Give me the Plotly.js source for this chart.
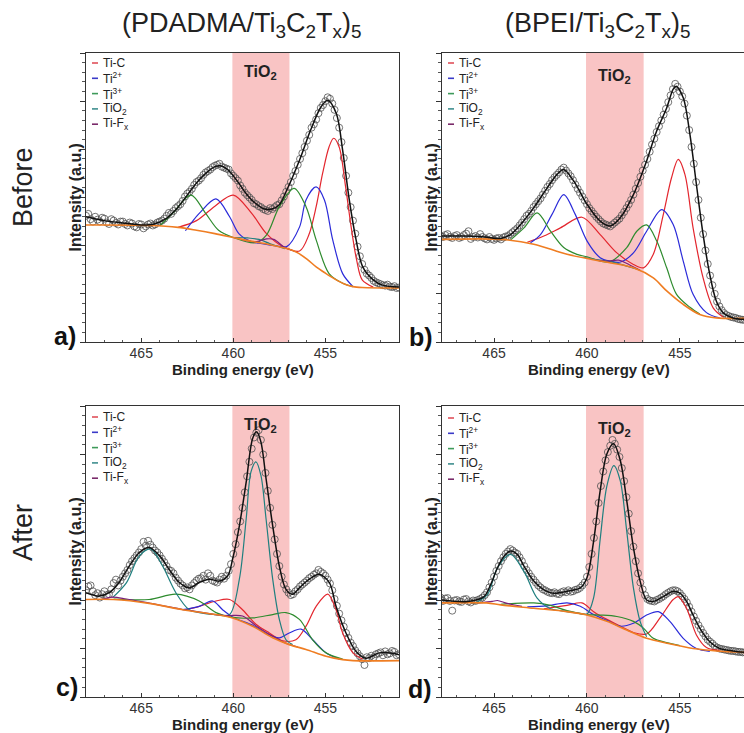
<!DOCTYPE html>
<html>
<head>
<meta charset="utf-8">
<script src="https://cdn.plot.ly/plotly-3.0.1.min.js"></script>
<style>html,body{margin:0;padding:0;background:#fff}#chart{width:744px;height:733px}</style>
</head>
<body>
<div id="chart"></div>
<script>
// ---------- tick labels / categories ----------
const xTickVals = [465, 460, 455];
const xTickText = ['465', '460', '455'];
const xTitle = '<b>Binding energy (eV)</b>';
const yTitle = '<b>Intensity (a.u.)</b>';
const columnTitles = ['(PDADMA/Ti<sub>3</sub>C<sub>2</sub>T<sub>x</sub>)<sub>5</sub>', '(BPEI/Ti<sub>3</sub>C<sub>2</sub>T<sub>x</sub>)<sub>5</sub>'];
const rowTitles = ['Before', 'After'];
const panelLetters = ['a)', 'b)', 'c)', 'd)'];
const componentNames = ['Ti-C', 'Ti<sup>2+</sup>', 'Ti<sup>3+</sup>', 'TiO<sub>2</sub>', 'Ti-F<sub>x</sub>'];
const tio2Band = [460.05, 456.95];

// ---------- measured data (open circles), binding energy in eV ----------
const dataE = [468,467.875,467.75,467.625,467.5,467.375,467.25,467.125,467,466.875,466.75,466.625,466.5,466.375,466.25,466.125,466,465.875,465.75,465.625,465.5,465.375,465.25,465.125,465,464.875,464.75,464.625,464.5,464.375,464.25,464.125,464,463.875,463.75,463.625,463.5,463.375,463.25,463.125,463,462.875,462.75,462.625,462.5,462.375,462.25,462.125,462,461.875,461.75,461.625,461.5,461.375,461.25,461.125,461,460.875,460.75,460.625,460.5,460.375,460.25,460.125,460,459.875,459.75,459.625,459.5,459.375,459.25,459.125,459,458.875,458.75,458.625,458.5,458.375,458.25,458.125,458,457.875,457.75,457.625,457.5,457.375,457.25,457.125,457,456.875,456.75,456.625,456.5,456.375,456.25,456.125,456,455.875,455.75,455.625,455.5,455.375,455.25,455.125,455,454.875,454.75,454.625,454.5,454.375,454.25,454.125,454,453.875,453.75,453.625,453.5,453.375,453.25,453.125,453,452.875,452.75,452.625,452.5,452.375,452.25,452.125,452,451.875,451.75,451.625,451.5,451.375,451.25,451.125,451];
const dataA = [2.62,2.66,2.55,2.50,2.60,2.54,2.50,2.58,2.56,2.48,2.45,2.55,2.52,2.47,2.44,2.50,2.50,2.45,2.42,2.48,2.46,2.40,2.38,2.45,2.44,2.36,2.40,2.44,2.46,2.42,2.44,2.48,2.50,2.52,2.56,2.62,2.68,2.66,2.72,2.78,2.82,2.86,2.93,3.02,3.08,3.12,3.18,3.26,3.32,3.35,3.40,3.47,3.52,3.55,3.58,3.63,3.66,3.68,3.70,3.64,3.62,3.60,3.58,3.50,3.45,3.40,3.35,3.25,3.18,3.10,3.05,3.00,2.95,2.88,2.86,2.82,2.80,2.76,2.74,2.72,2.78,2.76,2.80,2.84,2.86,2.94,3.02,3.12,3.22,3.32,3.45,3.55,3.68,3.80,3.92,4.05,4.18,4.30,4.45,4.52,4.62,4.75,4.86,4.92,5.00,5.08,5.05,4.95,4.82,4.65,4.45,4.15,3.82,3.45,3.10,2.80,2.52,2.25,1.98,1.78,1.62,1.50,1.42,1.38,1.33,1.27,1.24,1.22,1.20,1.18,1.17,1.19,1.15,1.14,1.16,1.12,1.13];
const dataB = [2.22,2.20,2.18,2.22,2.24,2.18,2.16,2.20,2.22,2.16,2.18,2.22,2.25,2.30,2.14,2.18,2.20,2.17,2.24,2.18,2.15,2.13,2.18,2.14,2.12,2.15,2.16,2.13,2.17,2.19,2.20,2.24,2.28,2.32,2.36,2.42,2.48,2.55,2.62,2.66,2.72,2.80,2.86,2.92,2.98,3.06,3.14,3.22,3.28,3.36,3.42,3.47,3.52,3.58,3.62,3.56,3.50,3.44,3.36,3.27,3.18,3.10,3.02,2.94,2.86,2.78,2.72,2.66,2.60,2.55,2.50,2.46,2.44,2.42,2.40,2.44,2.48,2.52,2.56,2.63,2.70,2.78,2.86,2.95,3.06,3.18,3.30,3.43,3.56,3.68,3.80,3.95,4.10,4.22,4.36,4.48,4.60,4.72,4.84,4.98,5.12,5.25,5.36,5.30,5.20,5.10,4.95,4.70,4.40,4.05,3.70,3.32,2.95,2.58,2.24,1.90,1.62,1.38,1.18,1.00,0.84,0.74,0.66,0.60,0.56,0.54,0.52,0.51,0.50,0.48,0.47,0.46,0.46,0.47,0.46,0.45,0.45];
const dataC = [2.20,2.28,2.30,2.18,2.10,2.14,2.05,2.12,2.18,2.10,2.12,2.22,2.35,2.42,2.30,2.40,2.48,2.55,2.62,2.72,2.80,2.86,2.92,2.98,3.05,3.20,3.12,3.22,3.14,3.08,3.02,2.98,2.92,2.85,2.78,2.70,2.62,2.60,2.55,2.46,2.40,2.34,2.30,2.24,2.26,2.22,2.30,2.35,2.40,2.44,2.45,2.50,2.42,2.55,2.50,2.40,2.38,2.36,2.42,2.48,2.44,2.50,2.60,2.74,2.95,3.15,3.40,3.62,3.90,4.22,4.55,4.85,5.12,5.35,5.45,5.50,5.30,5.00,4.62,4.25,3.90,3.55,3.25,2.95,2.70,2.48,2.32,2.22,2.15,2.10,2.12,2.18,2.22,2.28,2.32,2.36,2.40,2.45,2.48,2.52,2.55,2.62,2.58,2.55,2.50,2.42,2.34,2.20,2.02,1.88,1.72,1.58,1.45,1.32,1.22,1.12,1.05,0.96,0.90,0.84,0.78,0.66,0.82,0.80,0.85,0.82,0.88,0.90,0.92,0.86,0.94,0.88,0.90,0.95,0.93,0.86,0.88];
const dataD = [2.02,2.05,1.98,2.03,2.04,1.98,1.78,1.99,2.00,1.97,1.96,2.01,2.02,1.97,1.95,1.99,1.98,2.00,2.02,2.05,2.10,2.16,2.26,2.36,2.48,2.60,2.70,2.80,2.88,2.95,3.00,3.05,3.02,2.98,2.95,2.88,2.80,2.70,2.62,2.55,2.48,2.42,2.36,2.30,2.26,2.22,2.20,2.17,2.15,2.14,2.16,2.13,2.12,2.16,2.18,2.16,2.20,2.17,2.18,2.21,2.22,2.25,2.30,2.36,2.48,2.68,2.95,3.28,3.62,4.00,4.35,4.65,4.88,5.05,5.18,5.30,5.22,5.10,4.95,4.72,4.45,4.12,3.78,3.42,3.10,2.80,2.55,2.36,2.22,2.10,2.02,1.99,1.98,1.97,2.00,2.02,2.05,2.08,2.12,2.15,2.18,2.20,2.20,2.18,2.14,2.08,2.02,1.95,1.86,1.76,1.66,1.57,1.48,1.40,1.32,1.25,1.18,1.14,1.10,1.05,1.02,1.00,0.99,0.98,0.97,0.96,0.95,0.95,0.94,0.93,0.93,0.92,0.92,0.92,0.92,0.91,0.91];

// ---------- panel a: fitted curves ----------
const aEnvE = [468,467,466,465,464.3,463.7,463.0,462.5,462.0,461.5,461.0,460.7,460.3,459.8,459.3,458.8,458.3,457.9,457.5,457.1,456.4,455.8,455.24,454.87,454.4,454.06,453.7,453.33,452.97,452.4,451.9,451];
const aEnvY = [2.60,2.52,2.47,2.43,2.45,2.55,2.80,3.05,3.30,3.50,3.64,3.66,3.58,3.35,3.08,2.88,2.76,2.76,2.85,3.15,3.78,4.40,4.88,5.02,4.74,3.98,2.95,2.12,1.56,1.29,1.18,1.14];
const aBgE = [468,464.5,463,462,461,460,459,458,457,456.5,456,455.5,455,454.5,454,453.5,453,451];
const aBgY = [2.43,2.42,2.38,2.32,2.25,2.17,2.09,2.02,1.93,1.85,1.72,1.56,1.43,1.31,1.21,1.15,1.13,1.12];
const aTiCE = [463.0,462.0,461.0,460.0,459.0,458.2,457.3,456.4,455.9,455.5,455.15,454.8,454.55,454.25,453.9,453.6,453.3,453.0,452.4];
const aTiCY = [2.38,2.52,2.82,3.05,2.67,2.25,1.98,1.89,2.22,2.81,3.50,4.05,4.23,4.05,3.22,2.39,1.70,1.29,1.14];
const aTi2E = [462.6,461.85,460.94,460.2,459.7,459.0,458.6,457.6,457.1,456.4,456.05,455.5,455.05,454.6,454.06,453.5];
const aTi2Y = [2.31,2.67,2.97,2.60,2.25,2.08,2.05,1.99,1.98,2.39,2.95,3.22,2.95,2.12,1.42,1.15];
const aTi3E = [464.0,463.3,462.3,461.5,460.8,460.0,458.8,458.2,457.5,456.7,456.05,455.5,454.8,454.06,453.5];
const aTi3Y = [2.41,2.67,3.05,2.67,2.32,2.17,2.06,2.22,2.81,3.19,2.81,2.12,1.42,1.22,1.15];
const aTiO2E = [460.0,459.2,458.6,458.0,457.2];
const aTiO2Y = [2.17,2.16,2.13,2.04,1.94];
const aTiFE = [459.5,458.8,458.2,457.8,457.2,456.7];
const aTiFY = [2.12,2.08,2.14,2.13,1.96,1.89];

// ---------- panel b ----------
const bEnvE = [467.8,466.4,465.5,464.64,464.11,463.57,462.86,462.14,461.61,461.25,460.71,460.0,459.29,458.75,458.21,457.5,456.79,456.25,455.71,455.36,455.2,454.82,454.46,454.11,453.75,453.39,453.04,452.68,452.14,451.55];
const bEnvY = [2.20,2.20,2.18,2.15,2.23,2.44,2.79,3.20,3.48,3.58,3.34,2.86,2.51,2.41,2.58,3.06,3.76,4.38,4.86,5.25,5.31,5.07,4.31,3.27,2.23,1.40,0.85,0.61,0.50,0.47];
const bBgE = [467.8,464.6,462.86,461.07,459.29,457.5,456.43,455.71,454.82,453.93,453.04,451.55];
const bBgY = [2.13,2.13,2.03,1.82,1.68,1.54,1.33,1.06,0.78,0.57,0.50,0.49];
const bTiCE = [463.21,462.32,461.43,460.27,459.29,458.39,457.5,456.96,456.43,455.89,455.45,455.09,454.73,454.29,453.75,453.21,452.68];
const bTiCY = [2.07,2.20,2.37,2.59,2.23,1.85,1.61,1.54,1.82,2.65,3.41,3.79,3.48,2.37,1.33,0.71,0.52];
const bTi2E = [463.04,462.5,461.88,461.25,460.63,460.0,459.29,458.75,458.2,457.5,456.79,455.98,455.36,454.82,454.29,453.57,452.86];
const bTi2Y = [2.06,2.23,2.65,3.06,2.65,2.10,1.75,1.68,1.66,1.85,2.30,2.75,2.44,1.68,0.99,0.61,0.50];
const bTi3E = [464.11,463.39,462.68,461.96,461.25,460.54,460.0,458.8,457.86,457.32,456.79,456.25,455.71,455.18,454.46,453.93];
const bTi3Y = [2.12,2.37,2.68,2.30,1.96,1.82,1.77,1.66,1.96,2.30,2.43,2.10,1.54,0.99,0.72,0.58];
const bTiO2E = [460.2,459.3,458.6,457.9,457.2];
const bTiO2Y = [1.76,1.70,1.66,1.58,1.50];
const bTiFE = [459.5,458.9,458.3,457.7,457.1];
const bTiFY = [1.70,1.68,1.70,1.60,1.48];

// ---------- panel c ----------
const cEnvE = [468,467.28,466.74,466.2,465.65,465.1,464.57,464.0,463.48,462.93,462.4,461.85,461.3,460.76,460.3,460.04,459.67,459.3,458.95,458.73,458.5,458.22,457.86,457.5,457.14,456.78,456.41,455.87,455.33,454.78,454.42,453.88,453.33,452.79,452.07,451.34,451];
const cEnvY = [2.15,2.08,2.15,2.36,2.70,2.98,3.08,2.91,2.63,2.36,2.25,2.36,2.43,2.39,2.50,2.84,3.53,4.43,5.33,5.47,5.26,4.50,3.53,2.70,2.22,2.12,2.25,2.43,2.53,2.36,1.87,1.32,0.94,0.80,0.91,0.90,0.87];
const cBgE = [468,466.5,464.57,462.75,460.94,460.04,458.95,457.86,456.96,456.05,454.96,454.06,453.5,451];
const cBgY = [2.01,2.01,1.93,1.80,1.70,1.63,1.46,1.22,1.08,0.98,0.84,0.77,0.75,0.75];
const cTiCE = [462.57,461.85,460.94,460.2,459.5,458.77,458.04,457.32,456.6,456.05,455.5,454.87,454.42,454.06,453.5,452.97];
const cTiCY = [1.80,1.87,1.98,2.01,1.80,1.50,1.32,1.16,1.18,1.46,1.87,2.12,1.80,1.32,0.91,0.78];
const cTi2E = [462.75,461.85,461.12,460.58,460.04,458.9,458.22,457.5,456.96,456.32,455.69,454.96,454.24];
const cTi2Y = [1.80,1.87,1.98,1.80,1.65,1.47,1.31,1.22,1.32,1.40,1.18,0.91,0.78];
const cTi3E = [466.5,464.57,463.12,461.85,460.94,460.04,458.95,457.86,457.14,456.41,455.69,454.96,454.06];
const cTi3Y = [2.02,2.01,2.12,1.98,1.74,1.64,1.63,1.70,1.74,1.60,1.18,0.91,0.78];
const cTiO2E = [466.56,465.8,465.1,464.47,463.84,463.12,462.4,461.85,460.94,460.2,459.67,459.3,459.04,458.77,458.5,458.22,457.86,457.5,457.14,456.78];
const cTiO2Y = [2.05,2.36,2.91,3.05,2.70,2.15,1.80,1.74,1.70,1.70,2.43,3.67,4.64,4.85,4.57,3.67,2.43,1.60,1.18,1.08];
const cTiFE = [467.2,466.56,465.8,464.5,462.5,461.0,460.3,459.5,458.7,457.86,457.2,456.5];
const cTiFY = [2.01,2.06,2.02,1.93,1.79,1.70,1.68,1.67,1.45,1.25,1.12,1.03];

// ---------- panel d ----------
const dEnvE = [467.8,466.43,465.54,465.18,464.82,464.46,464.11,463.75,463.39,462.86,462.32,461.79,461.07,460.36,460.0,459.64,459.29,458.93,458.57,458.21,457.86,457.5,457.14,456.79,456.43,455.89,455.36,455.0,454.64,454.29,453.93,453.39,452.86,452.14,451.55];
const dEnvY = [2.00,1.97,2.07,2.32,2.66,2.90,3.01,2.94,2.70,2.39,2.21,2.14,2.18,2.25,2.46,3.22,4.25,5.01,5.22,4.88,4.05,3.08,2.39,2.00,1.97,2.07,2.18,2.14,1.97,1.69,1.42,1.14,1.00,0.95,0.92];
const dBgE = [467.8,465.4,464.64,462.86,461.07,460.0,458.93,457.86,456.79,455.71,454.29,453.04,451.55];
const dBgY = [1.94,1.94,1.90,1.83,1.76,1.69,1.56,1.38,1.21,1.11,1.00,0.95,0.92];
const dTiCE = [462.32,461.07,460.27,459.64,458.93,458.21,457.5,456.79,456.07,455.36,455.09,454.64,454.11,453.57,452.86];
const dTiCY = [1.82,1.89,1.94,1.76,1.60,1.46,1.33,1.30,1.63,2.01,2.07,1.83,1.28,1.02,0.96];
const dTi2E = [463.21,462.14,461.07,460.36,459.64,458.93,458.21,457.5,456.79,456.16,455.54,454.82,454.11,453.39];
const dTi2Y = [1.86,1.88,1.94,1.87,1.70,1.58,1.46,1.52,1.69,1.76,1.56,1.21,1.00,0.94];
const dTi3E = [464.64,462.86,461.96,461.07,460.0,459.29,458.39,457.5,456.96,456.43,455.71,455.0];
const dTi3Y = [1.91,1.94,1.89,1.78,1.70,1.69,1.66,1.56,1.42,1.21,1.12,1.06];
const dTiO2E = [466.07,465.36,464.82,464.11,463.39,462.68,461.96,461.43,460.5,460.0,459.64,459.29,458.93,458.55,458.21,457.86,457.5,457.14,456.79];
const dTiO2Y = [1.93,2.11,2.66,2.94,2.59,2.04,1.82,1.78,1.73,1.71,2.05,3.25,4.35,4.77,4.46,3.42,2.25,1.56,1.24];
const dTiFE = [465.8,465.1,464.82,464.3,463.5];
const dTiFY = [1.94,1.97,1.99,1.93,1.87];

// ---------- styles ----------
const compColors = ['#e3262e', '#2b2bd9', '#2e8b2e', '#1f7f7f', '#7b1f7b'];
const legendDashColors = ['#e0505a', '#3a3ac8', '#3e9a5a', '#3f8f8f', '#7a2a6a'];
const bgColor = '#ef7d22';
const FONT = 'Arial, "Liberation Sans", sans-serif';

const panels = [
  {ax: '', data: dataA, env: [aEnvE, aEnvY], bg: [aBgE, aBgY], comps: [[aTiCE, aTiCY], [aTi2E, aTi2Y], [aTi3E, aTi3Y], [aTiO2E, aTiO2Y], [aTiFE, aTiFY]]},
  {ax: '2', data: dataB, env: [bEnvE, bEnvY], bg: [bBgE, bBgY], comps: [[bTiCE, bTiCY], [bTi2E, bTi2Y], [bTi3E, bTi3Y], [bTiO2E, bTiO2Y], [bTiFE, bTiFY]]},
  {ax: '3', data: dataC, env: [cEnvE, cEnvY], bg: [cBgE, cBgY], comps: [[cTiCE, cTiCY], [cTi2E, cTi2Y], [cTi3E, cTi3Y], [cTiO2E, cTiO2Y], [cTiFE, cTiFY]]},
  {ax: '4', data: dataD, env: [dEnvE, dEnvY], bg: [dBgE, dBgY], comps: [[dTiCE, dTiCY], [dTi2E, dTi2Y], [dTi3E, dTi3Y], [dTiO2E, dTiO2Y], [dTiFE, dTiFY]]}
];

const traces = [];
panels.forEach(p => {
  const xa = 'x' + p.ax, ya = 'y' + p.ax;
  traces.push({type: 'scatter', mode: 'markers', x: dataE, y: p.data, xaxis: xa, yaxis: ya,
    marker: {symbol: 'circle-open', size: 7, color: '#505050', line: {width: 0.8}}, showlegend: false, hoverinfo: 'skip'});
  p.comps.forEach((c, i) => {
    traces.push({type: 'scatter', mode: 'lines', x: c[0], y: c[1], xaxis: xa, yaxis: ya,
      line: {color: compColors[i], width: 1.2, shape: 'spline', smoothing: 0.9}, showlegend: false, hoverinfo: 'skip'});
  });
  traces.push({type: 'scatter', mode: 'lines', x: p.bg[0], y: p.bg[1], xaxis: xa, yaxis: ya,
    line: {color: bgColor, width: 1.6, shape: 'spline', smoothing: 0.9}, showlegend: false, hoverinfo: 'skip'});
  traces.push({type: 'scatter', mode: 'lines', x: p.env[0], y: p.env[1], xaxis: xa, yaxis: ya,
    line: {color: '#111', width: 1.5, shape: 'spline', smoothing: 0.9}, showlegend: false, hoverinfo: 'skip'});
});

// geometry (pixels -> paper)
const W = 744, H = 733;
const PX = v => v / W, PY = v => 1 - v / H;
const colPx = [[86, 399], [442, 755]];
const rowPx = [[53, 342], [406, 697]];
const colDom = [[PX(86), PX(399)], [PX(442), 1]];
const rowDom = [[PY(342), PY(53)], [PY(697), PY(406)]];
const xRanges = [[468, 451], [467.8, 451.55]];

function xAxis(col, row, anchor) {
  return {domain: colDom[col], range: xRanges[col], anchor: anchor,
    tickmode: 'array', tickvals: xTickVals, ticktext: xTickText,
    ticks: 'inside', ticklen: 4, tickwidth: 1, tickcolor: '#333', ticklabelstandoff: -2,
    minor: {tickmode: 'linear', tick0: 0, dtick: 1, ticks: 'inside', ticklen: 2, tickcolor: '#555'},
    showline: true, linecolor: '#333', linewidth: 1, mirror: true,
    showgrid: false, zeroline: false, tickfont: {size: 14, color: '#333', family: FONT}};
}
function yAxis(col, row, anchor) {
  return {domain: rowDom[row], range: [0, 6], anchor: anchor,
    tickmode: 'linear', tick0: 0, dtick: 1, ticks: 'outside', ticklen: 5, tickcolor: '#333',
    minor: {tickmode: 'linear', tick0: 0, dtick: 0.2, ticks: 'outside', ticklen: 3, tickcolor: '#555'},
    showticklabels: false, showline: true, linecolor: '#333', linewidth: 1, mirror: col === 0,
    showgrid: false, zeroline: false};
}

const layout = {
  width: W, height: H, margin: {l: 0, r: 0, t: 0, b: 0},
  paper_bgcolor: '#fff', plot_bgcolor: 'rgba(0,0,0,0)', font: {family: FONT, color: '#222'},
  showlegend: false,
  xaxis: xAxis(0, 0, 'y'), yaxis: yAxis(0, 0, 'x'),
  xaxis2: xAxis(1, 0, 'y2'), yaxis2: yAxis(1, 0, 'x2'),
  xaxis3: xAxis(0, 1, 'y3'), yaxis3: yAxis(0, 1, 'x3'),
  xaxis4: xAxis(1, 1, 'y4'), yaxis4: yAxis(1, 1, 'x4'),
  shapes: [], annotations: []
};

['', '2', '3', '4'].forEach((ax, k) => {
  layout.shapes.push({type: 'rect', xref: 'x' + ax, yref: 'y' + ax + ' domain', x0: tio2Band[0], x1: tio2Band[1], y0: 0, y1: 1,
    fillcolor: '#f9c4c4', line: {width: 0}, layer: 'below'});
  layout.annotations.push({xref: 'x' + ax, yref: 'y' + ax, x: (tio2Band[0] + tio2Band[1]) / 2, y: k % 2 === 0 ? 5.6 : 5.52,
    text: '<b>TiO<sub>2</sub></b>', showarrow: false, font: {size: 16, color: '#222'}});
  // axis titles, placed as text under / beside each panel
  const col = k % 2, row = Math.floor(k / 2);
  const cx = (colPx[col][0] + colPx[col][1]) / 2;
  layout.annotations.push({xref: 'paper', yref: 'paper', x: PX(cx), y: PY(rowPx[row][1] + 27.5), text: xTitle, borderpad: 0,
    showarrow: false, font: {size: 15, color: '#222'}, xanchor: 'center', yanchor: 'middle'});
  layout.annotations.push({xref: 'paper', yref: 'paper', x: PX(colPx[col][0] - 11), y: PY((rowPx[row][0] + rowPx[row][1]) / 2),
    text: yTitle, textangle: -90, showarrow: false, font: {size: 16, color: '#222'}, xanchor: 'center', yanchor: 'middle'});
});

// column and row titles
[[242, 25], [598, 25]].forEach((p, i) => {
  layout.annotations.push({xref: 'paper', yref: 'paper', x: PX(p[0]), y: PY(p[1]), text: columnTitles[i],
    showarrow: false, font: {size: 27, color: '#222'}, xanchor: 'center', yanchor: 'middle'});
});
[[23, 187], [23, 533]].forEach((p, i) => {
  layout.annotations.push({xref: 'paper', yref: 'paper', x: PX(p[0]), y: PY(p[1]), text: rowTitles[i], textangle: -90,
    showarrow: false, font: {size: 27, color: '#222'}, xanchor: 'center', yanchor: 'middle'});
});
// panel letters
[[65, 336], [421, 337], [67, 687], [420, 689]].forEach((p, i) => {
  layout.annotations.push({xref: 'paper', yref: 'paper', x: PX(p[0]), y: PY(p[1]), text: '<b>' + panelLetters[i] + '</b>',
    showarrow: false, font: {size: 25, color: '#111'}, xanchor: 'center', yanchor: 'middle'});
});
// in-plot legends: short coloured dash + label
const legendOrigins = [[92, 63], [448, 63], [92, 417], [448, 418]];
legendOrigins.forEach(o => {
  componentNames.forEach((nm, i) => {
    const yy = o[1] + i * 15.3;
    layout.shapes.push({type: 'line', xref: 'paper', yref: 'paper', x0: PX(o[0]), x1: PX(o[0] + 6), y0: PY(yy), y1: PY(yy),
      line: {color: legendDashColors[i], width: 1.6}});
    layout.annotations.push({xref: 'paper', yref: 'paper', x: PX(o[0] + 9), y: PY(yy),
      text: nm, showarrow: false, font: {size: 12, color: '#222'}, xanchor: 'left', yanchor: 'middle'});
  });
});

Plotly.newPlot('chart', traces, layout, {staticPlot: true, displayModeBar: false});
</script>
</body>
</html>
